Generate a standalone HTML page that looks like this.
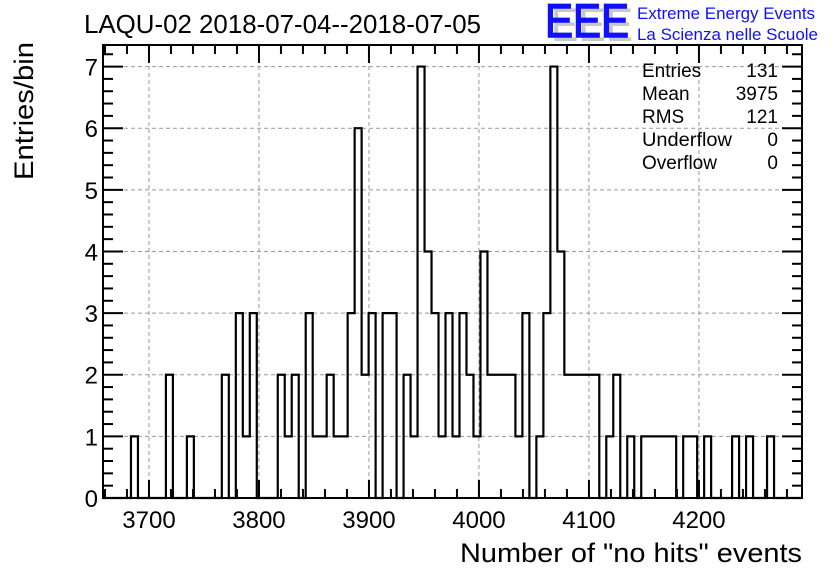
<!DOCTYPE html>
<html><head><meta charset="utf-8"><style>
body{margin:0;background:#fff}
svg{display:block;font-family:"Liberation Sans",Arial,sans-serif}
</style></head><body>
<svg id="chart" width="836" height="572" viewBox="0 0 836 572" xmlns="http://www.w3.org/2000/svg">
<rect width="836" height="572" fill="#fff"/>
<g id="grid"></g>
<g id="hist"></g>
<g id="axes"></g>
<text x="84" y="33" font-size="25.5" textLength="397" lengthAdjust="spacingAndGlyphs">LAQU-02 2018-07-04--2018-07-05</text>
<g>
<text x="551" y="41" font-size="47" fill="#c8c8c8" textLength="82" lengthAdjust="spacingAndGlyphs">EEE</text>
<text x="545" y="37" font-size="47" fill="#1010ff" stroke="#1010ff" stroke-width="1.5" textLength="84" lengthAdjust="spacingAndGlyphs">EEE</text>
<text x="637" y="19" font-size="17" fill="#1010ff" textLength="178" lengthAdjust="spacingAndGlyphs">Extreme Energy Events</text>
<text x="637" y="40" font-size="17" fill="#1010ff" textLength="181" lengthAdjust="spacingAndGlyphs">La Scienza nelle Scuole</text>
</g>
<g font-size="19">
<text x="642" y="77">Entries</text><text x="778" y="77" text-anchor="end">131</text>
<text x="642" y="100">Mean</text><text x="778" y="100" text-anchor="end">3975</text>
<text x="642" y="123">RMS</text><text x="778" y="123" text-anchor="end">121</text>
<text x="642" y="146" textLength="90" lengthAdjust="spacingAndGlyphs">Underflow</text><text x="778" y="146" text-anchor="end">0</text>
<text x="642" y="169">Overflow</text><text x="778" y="169" text-anchor="end">0</text>
</g>
<text x="802" y="562" font-size="27" text-anchor="end" textLength="342" lengthAdjust="spacingAndGlyphs">Number of "no hits" events</text>
<text transform="translate(33,180) rotate(-90)" font-size="27" textLength="138" lengthAdjust="spacingAndGlyphs">Entries/bin</text>
</svg>
<script>
const xMin = 3658.2, xMax = 4293.7, nBins = 100;
const yMax = 7.35;
const binValues = [0,0,0,0,1,0,0,0,0,2, 0,0,1,0,0,0,0,2,0,3, 1,3,0,0,0,2,1,2,0,3,
 1,1,2,1,1,3,6,2,3,0, 3,3,0,2,1,7,4,3,1,3, 1,3,2,1,4,2,2,2,2,1, 3,0,1,3,7,4,2,2,2,2,
 2,0,1,2,0,1,0,1,1,1, 1,1,0,1,1,0,1,0,0,0, 1,0,1,0,0,1,0,0,0,0];
const xTicks = [3700,3800,3900,4000,4100,4200];
const yTicks = [0,1,2,3,4,5,6,7];
const L=103,R=802,T=45,B=498;
const NS="http://www.w3.org/2000/svg";
const sx=v=>L+(v-xMin)/(xMax-xMin)*(R-L);
const sy=v=>B-v/yMax*(B-T);
function mk(tag,attrs,parent){const e=document.createElementNS(NS,tag);for(const k in attrs)e.setAttribute(k,attrs[k]);parent.appendChild(e);return e;}
const grid=document.getElementById('grid'),axes=document.getElementById('axes'),hist=document.getElementById('hist');
xTicks.forEach(t=>{const g=mk('line',{x1:sx(t),x2:sx(t),y1:T,y2:B,stroke:'#999','stroke-dasharray':'4,3','stroke-width':1},grid);
});
yTicks.forEach(t=>{if(t===0)return;const g=mk('line',{x1:L,x2:R,y1:sy(t),y2:sy(t),stroke:'#999','stroke-dasharray':'4,3','stroke-width':1},grid);
});
const bw=(xMax-xMin)/nBins;let d='M'+sx(xMin)+','+sy(0);
binValues.forEach((v,i)=>{d+=' L'+sx(xMin+i*bw)+','+sy(v)+' L'+sx(xMin+(i+1)*bw)+','+sy(v);});
d+=' L'+sx(xMax)+','+sy(0);
const p=mk('path',{d:d,fill:'none',stroke:'#000','stroke-width':2.2},hist);

const f=mk('rect',{x:L,y:T,width:R-L,height:B-T,fill:'none',stroke:'#000','stroke-width':2},axes);

for(let v=3660;v<=xMax;v+=20){const major=v%100===0;const len=major?18:9;
mk('line',{x1:sx(v),x2:sx(v),y1:B,y2:B-len,stroke:'#000','stroke-width':2},axes);
mk('line',{x1:sx(v),x2:sx(v),y1:T,y2:T+len,stroke:'#000','stroke-width':2},axes);}
xTicks.forEach(t=>{const tx=mk('text',{x:sx(t),y:528,'font-size':24,'text-anchor':'middle'},axes);tx.textContent=t;
});
for(let k=0;k<=36;k++){const v=k*0.2;if(v>yMax)break;const major=k%5===0;const len=major?20:10;
mk('line',{x1:L,x2:L+len,y1:sy(v),y2:sy(v),stroke:'#000','stroke-width':2},axes);
mk('line',{x1:R,x2:R-len,y1:sy(v),y2:sy(v),stroke:'#000','stroke-width':2},axes);}
yTicks.forEach(t=>{const tx=mk('text',{x:98,y:sy(t)+9,'font-size':24,'text-anchor':'end'},axes);tx.textContent=t;
});
</script>
</body></html>
